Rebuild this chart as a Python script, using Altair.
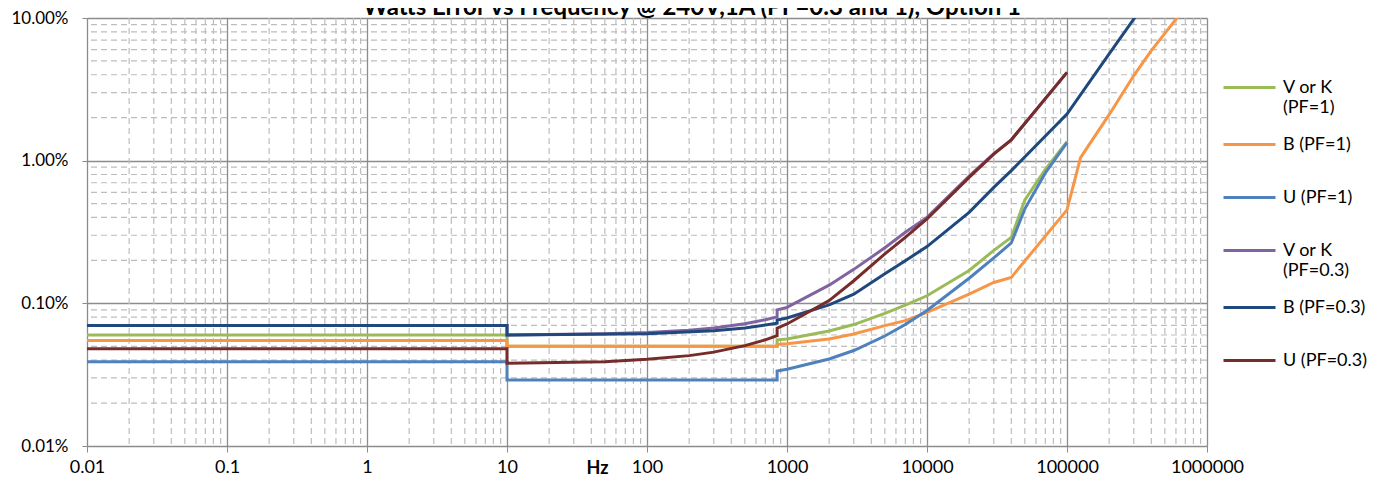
import altair as alt
import pandas as pd

TITLE = "Watts Error vs Frequency @ 240V,1A (PF=0.3 and 1), Option 1"
SERIES = ["V or K (PF=1)", "B (PF=1)", "U (PF=1)",
          "V or K (PF=0.3)", "B (PF=0.3)", "U (PF=0.3)"]
COLORS = ["#9BBB59", "#F79646", "#4F81BD", "#8064A2", "#1F497D", "#772C2A"]

# frequency (Hz) and watts error (%)
vk1_hz = [0.01, 10, 10, 850, 850, 1000, 2000, 3000, 5000, 7000, 10000, 20000,
          30000, 40000, 50000, 70000, 100000]
vk1_pct = [0.06, 0.06, 0.05, 0.05, 0.0555, 0.0562, 0.064, 0.071, 0.085, 0.097,
           0.113, 0.170, 0.235, 0.29, 0.53, 0.87, 1.36]

b1_hz = [0.01, 10, 10, 850, 850, 1000, 2000, 3000, 5000, 7000, 10000, 20000,
         30000, 40000, 100000, 125000, 200000, 300000, 400000, 500000,
         600000, 700000]
b1_pct = [0.055, 0.055, 0.05, 0.05, 0.0515, 0.052, 0.0562, 0.061, 0.0698,
          0.0756, 0.0865, 0.116, 0.140, 0.152, 0.452, 1.05, 2.1, 3.95, 5.9,
          7.8, 9.8, 11.8]

u1_hz = [0.01, 10, 10, 850, 850, 1000, 2000, 3000, 5000, 7000, 10000, 20000,
         30000, 40000, 50000, 70000, 100000]
u1_pct = [0.039, 0.039, 0.029, 0.029, 0.0335, 0.0345, 0.0407, 0.0467, 0.059,
          0.071, 0.089, 0.150, 0.208, 0.265, 0.46, 0.82, 1.34]

vk03_hz = [0.01, 10, 10, 50, 100, 200, 300, 500, 700, 850, 850, 1000, 2000,
           3000, 5000, 7000, 10000, 20000, 30000, 40000, 100000]
vk03_pct = [0.07, 0.07, 0.06, 0.0612, 0.0624, 0.0648, 0.0672, 0.072, 0.0768,
            0.0804, 0.090, 0.0937, 0.134, 0.173, 0.245, 0.315, 0.40, 0.78,
            1.12, 1.40, 4.16]

b03_hz = [0.01, 10, 10, 100, 300, 500, 850, 850, 1000, 2000, 3000, 5000, 7000,
          10000, 20000, 30000, 40000, 100000, 200000, 500000]
b03_pct = [0.07, 0.07, 0.06, 0.0613, 0.0643, 0.0672, 0.0725, 0.0765, 0.079,
           0.0975, 0.116, 0.161, 0.199, 0.25, 0.434, 0.65, 0.851, 2.12, 5.6,
           20.0]

u03_hz = [0.01, 10, 10, 50, 100, 200, 300, 500, 700, 850, 850, 1000, 2000,
          3000, 5000, 7000, 10000, 20000, 30000, 40000, 100000]
u03_pct = [0.048, 0.048, 0.038, 0.039, 0.0405, 0.043, 0.0455, 0.0505, 0.0555,
           0.0593, 0.067, 0.0717, 0.1045, 0.144, 0.222, 0.290, 0.39, 0.764,
           1.11, 1.40, 4.16]

X_TICKS = [0.01, 0.1, 1, 10, 100, 1000, 10000, 100000, 1000000]
Y_TICKS = [0.01, 0.1, 1, 10]
X_MINOR = [m * 10.0 ** e for e in range(-2, 6) for m in range(2, 10)]
Y_MINOR = [m * 10.0 ** e for e in range(-2, 1) for m in range(2, 10)]

series_data = [
    (SERIES[0], vk1_hz, vk1_pct),
    (SERIES[1], b1_hz, b1_pct),
    (SERIES[2], u1_hz, u1_pct),
    (SERIES[3], vk03_hz, vk03_pct),
    (SERIES[4], b03_hz, b03_pct),
    (SERIES[5], u03_hz, u03_pct),
]

FONT = "Lato"
GRID = "#8C8C8C"
MINOR = "#BDBDBD"

xscale = alt.Scale(type="log", domain=[0.01, 1000000], nice=False)
yscale = alt.Scale(type="log", domain=[0.01, 10], nice=False)

xaxis = alt.Axis(values=X_TICKS, format="~f", title="Hz",
                 titleFont=FONT, titleFontSize=18, titleFontWeight="bold",
                 titleX=510, titleY=22, titleAlign="center",
                 titleBaseline="middle", titleColor="#000000",
                 labelFont=FONT, labelFontSize=18, labelColor="#000000",
                 labelPadding=6, tickSize=6, tickColor=GRID, domainColor=GRID,
                 gridColor=GRID, gridWidth=1.3, labelFlush=False,
                 labelOverlap=False)
yaxis = alt.Axis(values=Y_TICKS, labelExpr="format(datum.value, '.2f') + '%'",
                 title=None, labelFont=FONT, labelFontSize=17,
                 labelColor="#000000", labelPadding=14, tickSize=5,
                 tickColor=GRID, domainColor=GRID, gridColor=GRID,
                 gridWidth=1.3, labelOverlap=False)

# stroke symbol whose bounds reach above and below so every entry has the same height
LEGEND_SYMBOL = "M-1,0H1M0,-0.72M0,0.72"

legend = alt.Legend(
    title=None, orient="none", legendX=1135, legendY=42,
    symbolType=LEGEND_SYMBOL, symbolSize=2704, symbolStrokeWidth=3,
    rowPadding=0, labelFont=FONT, labelFontSize=18, labelColor="#000000",
    labelOffset=6, labelLimit=200,
    labelExpr=("datum.label == 'V or K (PF=1)' ? ['V or K', '(PF=1)'] : "
               "datum.label == 'V or K (PF=0.3)' ? ['V or K', '(PF=0.3)'] : "
               "datum.label"),
)
color = alt.Color("series:N", scale=alt.Scale(domain=SERIES, range=COLORS),
                  legend=legend)

xminor = alt.Chart(pd.DataFrame({"f": X_MINOR})).mark_rule(
    color=MINOR, strokeWidth=1.2, strokeDash=[6, 4]
).encode(x=alt.X("f:Q", scale=xscale, axis=xaxis))

yminor = alt.Chart(pd.DataFrame({"v": Y_MINOR})).mark_rule(
    color=MINOR, strokeWidth=1.2, strokeDash=[6, 4]
).encode(y=alt.Y("v:Q", scale=yscale, axis=yaxis))

layers = [xminor, yminor]
for name, hz, pct in series_data:
    df = pd.DataFrame({"f": hz, "v": pct, "i": list(range(len(hz))),
                       "series": [name] * len(hz)})
    layers.append(
        alt.Chart(df).mark_line(strokeWidth=3, clip=True).encode(
            x=alt.X("f:Q", scale=xscale, axis=xaxis),
            y=alt.Y("v:Q", scale=yscale, axis=yaxis),
            color=color,
            order="i:Q",
        )
    )

# chart title, partly cut by the top edge as in the reference
title_layer = alt.Chart(pd.DataFrame({"title": [TITLE]})).mark_text(
    font=FONT, fontSize=24, fontWeight="bold", align="center",
    baseline="alphabetic", color="#000000"
).encode(text="title:N", x=alt.value(605), y=alt.value(-3))
layers.append(title_layer)

chart = alt.layer(*layers).properties(
    width=1120, height=428,
    autosize=alt.AutoSizeParams(type="none"),
    padding={"left": 79, "top": 10, "right": 170, "bottom": 38},
).configure_view(strokeWidth=0)

chart.save("out.html", embed_options={"renderer": "svg", "actions": False})
